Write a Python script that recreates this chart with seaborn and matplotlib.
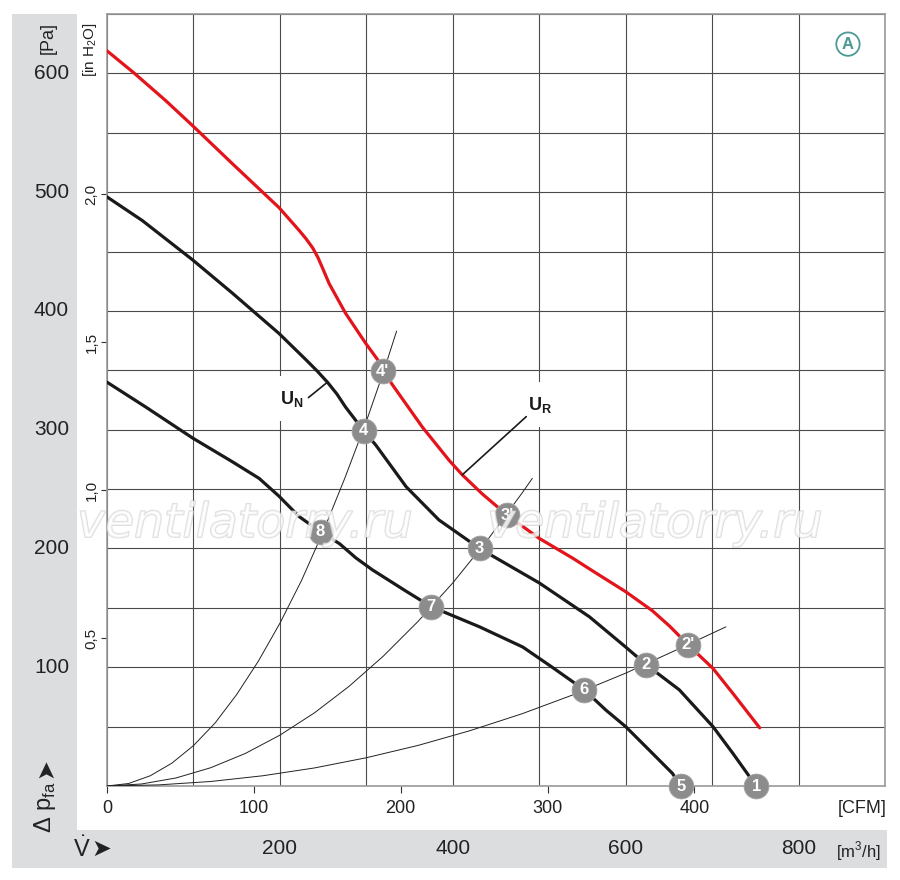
import numpy as np
import pandas as pd
import matplotlib
matplotlib.use("Agg")
import matplotlib.pyplot as plt
import seaborn as sns
from matplotlib.ticker import MultipleLocator
import matplotlib.patheffects as pe
from matplotlib.patches import Rectangle

# ---------------- data ----------------
# fan curve U_R (red), flow in m3/h, pressure in Pa
ur_flow = [0, 31, 68, 99, 145, 180, 199, 222, 230, 238, 244, 250, 257, 276, 299, 313, 320, 330, 365, 396,
           411, 434, 463, 500, 539, 562, 600, 631, 651, 672, 701, 724, 755]
ur_pa   = [619, 600.5, 577, 556, 524, 500, 487, 468, 461, 453, 445, 435, 423, 398, 373, 359, 349, 338, 302, 274,
           262, 246, 228, 208.5, 191.7, 181, 163.6, 147.5, 134.5, 119, 99, 78, 49]

# fan curve U_N (black)
un_flow = [0, 41, 99, 145, 199, 230, 243, 255, 266, 276, 296, 311, 346, 384, 431, 500, 558, 600, 624, 662,
           701, 724, 751]
un_pa   = [496, 476, 443, 415, 381, 359, 349.5, 340, 330, 319, 300, 287, 252, 224, 200, 171, 142.5, 117, 102, 81,
           50, 27.5, 0]

# lower speed curve (black)
low_flow = [0, 45, 99, 145, 176, 199, 222, 247, 269, 288, 307, 346, 375, 431, 481, 515, 552, 577,
            600, 631, 654, 664]
low_pa   = [340, 319, 293, 273, 259, 244, 227, 214, 204, 192, 182, 164, 151, 134, 117, 100, 81, 64,
            50, 27.5, 10.7, 0]

# system curves (thin)
sysA_flow = [0, 25, 50, 75, 100, 125, 150, 175, 200, 225, 250, 275, 300, 320, 335]
sysA_pa   = [0, 2.1, 8.6, 19.2, 34, 53, 77, 105, 137, 173, 214, 259, 307, 349, 383]
sysB_flow = [0, 40, 80, 120, 160, 200, 240, 280, 320, 360, 400, 440, 480, 492]
sysB_pa   = [0, 1.7, 6.8, 15.4, 27.4, 42.8, 61.6, 83.9, 109.6, 138.7, 171, 207, 246.5, 259]
sysC_flow = [0, 60, 120, 180, 240, 300, 360, 420, 480, 540, 600, 660, 716]
sysC_pa   = [0, 0.95, 3.8, 8.6, 15.2, 23.8, 34.2, 46.6, 60.8, 77, 95, 115, 134]

# operating points
pt_labels = ["1", "2", "2'", "3", "3'", "4", "4'", "5", "6", "7", "8"]
pt_flow   = [751, 624, 672, 431, 463, 297, 319, 664, 552, 375, 247]
pt_pa     = [0, 102, 119, 200, 228, 299, 349, 0, 81, 151, 214]

# leader lines for curve labels
un_lead_flow = [233, 255]
un_lead_pa   = [327, 340]
ur_lead_flow = [485, 411]
ur_lead_pa   = [311, 262]

# axes ticks
pa_ticks = [100, 200, 300, 400, 500, 600]
pa_labels = ["100", "200", "300", "400", "500", "600"]
m3h_ticks = [200, 400, 600, 800]
m3h_labels = ["200", "400", "600", "800"]
inh2o_ticks = [0.5, 1.0, 1.5, 2.0]
inh2o_labels = ["0,5", "1,0", "1,5", "2,0"]
cfm_ticks = [0, 100, 200, 300, 400]
cfm_labels = ["0", "100", "200", "300", "400"]

PA_PER_INH2O = 249.09
M3H_PER_CFM = 1.699

# ---------------- style ----------------
sns.set_theme(style="white")
FONT = ["Liberation Sans Narrow", "Liberation Sans", "DejaVu Sans"]
plt.rcParams["font.family"] = FONT
plt.rcParams["mathtext.fontset"] = "custom"
plt.rcParams["mathtext.rm"] = "Liberation Sans"

W, H = 900, 880
TXT = "#222222"
fig = plt.figure(figsize=(9, 8.8), dpi=100, facecolor="white")

panel = "#dcdddf"
fig.patches.append(Rectangle((12 / W, 1 - 830 / H), 65 / W, 816 / H,
                             transform=fig.transFigure, fc=panel, ec="none", zorder=-5))
fig.patches.append(Rectangle((12 / W, 1 - 868 / H), 875 / W, 38 / H,
                             transform=fig.transFigure, fc=panel, ec="none", zorder=-5))

ax = fig.add_axes([107 / W, 1 - 786 / H, 778 / W, 772 / H])
ax.set_xlim(0, 900)
ax.set_ylim(0, 650)
ax.set_facecolor("white")

# grid
ax.xaxis.set_major_locator(MultipleLocator(100))
ax.yaxis.set_major_locator(MultipleLocator(50))
ax.grid(which="major", color="#4a4a4a", lw=0.8)
ax.set_axisbelow(True)
ax.tick_params(axis="both", which="both", length=0, labelleft=False, labelbottom=False)
for s in ax.spines.values():
    s.set_color("#9a9a9a")
    s.set_linewidth(1.2)

# main scale labels (Pa, m3/h) in the grey panels
ytr = ax.get_yaxis_transform()
for v, l in zip(pa_ticks, pa_labels):
    ax.text(-38 / 778, v, l, transform=ytr, ha="right", va="center", fontsize=15, color=TXT,
            clip_on=False)
xtr = ax.get_xaxis_transform()
for v, l in zip(m3h_ticks, m3h_labels):
    ax.text(v, -62 / 772, l, transform=xtr, ha="center", va="center", fontsize=15, color=TXT,
            clip_on=False)

# secondary scales (in H2O, CFM)
secy = ax.secondary_yaxis("left", functions=(lambda p: p / PA_PER_INH2O, lambda i: i * PA_PER_INH2O))
secy.set_yticks(inh2o_ticks)
secy.set_yticklabels(inh2o_labels, rotation=90, va="center")
secy.tick_params(length=4, width=0.8, color="#333333", pad=2, labelsize=11, labelcolor=TXT)
secy.spines["left"].set_visible(False)

secx = ax.secondary_xaxis("bottom", functions=(lambda q: q / M3H_PER_CFM, lambda c: c * M3H_PER_CFM))
secx.set_xticks(cfm_ticks)
secx.set_xticklabels(cfm_labels)
secx.tick_params(length=5, width=0.8, color="#333333", pad=5, labelsize=13, labelcolor=TXT)
secx.spines["bottom"].set_visible(False)

# system curves
for fx, fy in [(sysA_flow, sysA_pa), (sysB_flow, sysB_pa), (sysC_flow, sysC_pa)]:
    sns.lineplot(x=fx, y=fy, ax=ax, color="#222222", lw=0.7, sort=False, estimator=None, zorder=3)

# fan curves
sns.lineplot(x=low_flow, y=low_pa, ax=ax, color="#1a1a1a", lw=2.3, sort=False, estimator=None, zorder=4)
sns.lineplot(x=un_flow, y=un_pa, ax=ax, color="#1a1a1a", lw=2.3, sort=False, estimator=None, zorder=4)
sns.lineplot(x=ur_flow, y=ur_pa, ax=ax, color="#e3141b", lw=2.3, sort=False, estimator=None, zorder=4)

# leaders and labels
ax.plot(un_lead_flow, un_lead_pa, color="#1a1a1a", lw=1.2, zorder=4)
ax.plot(ur_lead_flow, ur_lead_pa, color="#1a1a1a", lw=1.2, zorder=4)
ax.text(214, 326, r"U$_{\mathregular{N}}$", fontsize=13, fontweight="bold", ha="center", va="center",
        color="#1a1a1a", zorder=3.5,
        bbox=dict(boxstyle="square,pad=0.7", fc="white", ec="none"))
ax.text(501, 321, r"U$_{\mathregular{R}}$", fontsize=13, fontweight="bold", ha="center", va="center",
        color="#1a1a1a", zorder=3.5,
        bbox=dict(boxstyle="square,pad=0.7", fc="white", ec="none"))

# operating point markers
ax.scatter(pt_flow, pt_pa, s=320, c="#8c8c8c", edgecolors="#a5a5a5", linewidths=0.6,
           zorder=6, clip_on=False)
for lx, ly, lt in zip(pt_flow, pt_pa, pt_labels):
    ax.text(lx, ly, lt, color="white", fontsize=12, fontweight="bold", ha="center", va="center",
            zorder=7, clip_on=False)

# circled A
ax.text(0.9524, 0.961, "A", transform=ax.transAxes, color="#4a9a95", fontsize=12, fontweight="bold",
        ha="center", va="center", zorder=7,
        bbox=dict(boxstyle="circle,pad=0.25", fc="white", ec="#4a9a95", lw=1.3))

# axis labels in the panels
fig.text(48 / W, 1 - 38 / H, "[Pa]", rotation=90, ha="center", va="center", fontsize=13, color=TXT)
fig.text(90 / W, 1 - 50 / H, r"[in H$_{\mathregular{2}}$O]", rotation=90, ha="center", va="center",
         fontsize=11, color=TXT)
fig.text(45 / W, 1 - 807 / H, r"Δ p$_{\mathregular{fa}}$", rotation=90, ha="center", va="center",
         fontsize=17, color=TXT)
fig.text(45 / W, 1 - 768 / H, "➤", rotation=90, ha="center", va="center", fontsize=17,
         color=TXT, family="DejaVu Sans")
fig.text(82 / W, 1 - 849 / H, r"$\dot{\mathregular{V}}$", ha="center", va="center", fontsize=17, color=TXT)
fig.text(101 / W, 1 - 849 / H, "➤", ha="center", va="center", fontsize=17, color=TXT,
         family="DejaVu Sans")
fig.text(858 / W, 1 - 851 / H, r"[m$^{\mathregular{3}}$/h]", ha="center", va="center", fontsize=12, color=TXT)
fig.text(862 / W, 1 - 808 / H, "[CFM]", ha="center", va="center", fontsize=13, color=TXT)

# watermark
for cx in (245, 655):
    fig.text(cx / W, 1 - 537 / H, "ventilatorry.ru", ha="center", va="baseline", fontsize=34,
             style="italic", family=["DejaVu Sans"], color="white", alpha=0.55, zorder=20,
             path_effects=[pe.withStroke(linewidth=1.3, foreground="#c4c4c4")])

fig.savefig("out.png", dpi=100, facecolor="white")
